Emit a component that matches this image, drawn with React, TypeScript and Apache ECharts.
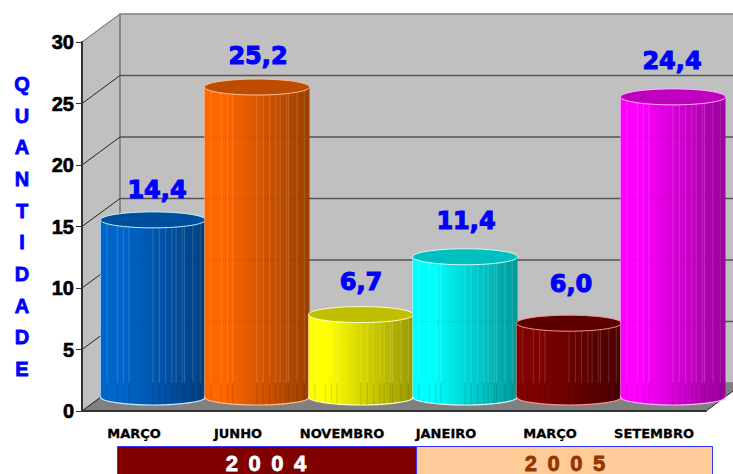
import React, { useEffect, useRef } from "react";
import * as echarts from "echarts";

const categories = ["MARÇO", "JUNHO", "NOVEMBRO", "JANEIRO", "MARÇO", "SETEMBRO"];
const values = [14.4, 25.2, 6.7, 11.4, 6.0, 24.4];
const valueLabels = ["14,4", "25,2", "6,7", "11,4", "6,0", "24,4"];
const levels = [0, 5, 10, 15, 20, 25, 30];
const axisTitle = "QUANTIDADE";
const years = ["2 0 0 4", "2 0 0 5"];

// styling and layout, separate from the data
const bodyLeft = ["#0066cc", "#ff6600", "#ffff00", "#00ffff", "#800000", "#ff00ff"];
const bodyRight = ["#003f80", "#9c3f00", "#999900", "#009999", "#4a0000", "#990099"];
const capFill = ["#004f9e", "#bd4c00", "#bfbf00", "#00bfbf", "#5f0000", "#bf00bf"];
const rimLine = ["#c0f0ff", "#ffc090", "#ffffd0", "#d0ffff", "#ff9090", "#ffb0ff"];
const labelDy = [-30, -31, -33, -36, -39, -36];
const labelDx = [4, 1, 0, 1, 2, -1];
const facetPositions = [0.06, 0.16, 0.22, 0.27, 0.5, 0.56, 0.62, 0.68, 0.72, 0.78, 0.8, 0.88, 0.95];
const DX = 38;
const DY = 28;
const BAR_W = 105;
const RY = 8;

function renderBackdrop(params: any, api: any) {
  const cs = params.coordSys;
  const left = cs.x;
  const right = cs.x + cs.width;
  const y0 = api.coord([0, 0])[1];
  const yTop = api.coord([0, levels[levels.length - 1]])[1];
  return {
    type: "group",
    children: [
      { type: "polygon", shape: { points: [[left, yTop], [left + DX, yTop - DY], [left + DX, y0 - DY], [left, y0]] }, style: { fill: "#c0c0c0", stroke: "#808080", lineWidth: 1 } },
      { type: "rect", shape: { x: left + DX, y: yTop - DY, width: right - left, height: y0 - yTop }, style: { fill: "#c0c0c0", stroke: "#808080", lineWidth: 1.5 } },
      { type: "polygon", shape: { points: [[left, y0], [left + DX, y0 - DY], [right + DX, y0 - DY], [right, y0]] }, style: { fill: "#808080" } },
    ],
  };
}

function yTopOf(api: any) {
  return api.coord([0, levels[levels.length - 1]])[1];
}

function renderLevel(params: any, api: any) {
  const cs = params.coordSys;
  const left = cs.x;
  const right = cs.x + cs.width;
  const v = api.value(1);
  const y = api.coord([0, v])[1];
  const top = v === levels[levels.length - 1];
  return {
    type: "group",
    children: [
      { type: "line", shape: { x1: left, y1: y, x2: left + DX, y2: y - DY }, style: { stroke: top ? "#808080" : "#222222", lineWidth: 1 } },
      v === 0 || top
        ? { type: "line", shape: { x1: right, y1: y, x2: right + DX, y2: y - DY }, style: { stroke: v === 0 ? "#222222" : "none", lineWidth: 1 } }
        : { type: "line", shape: { x1: left + DX, y1: y - DY, x2: right + DX, y2: y - DY }, style: { stroke: "#555555", lineWidth: 1.5 } },
      ...(v === 0
        ? [{ type: "line", shape: { x1: left + DX, y1: y - DY, x2: left + DX, y2: yTopOf(api) - DY }, style: { stroke: "#808080", lineWidth: 1 } }]
        : []),
    ],
  };
}

function renderCylinder(params: any, api: any) {
  const i = api.value(0);
  const p = api.coord([i, api.value(1)]);
  const base = api.coord([i, 0]);
  const cx = p[0] + DX / 2;
  const topY = p[1] - DY / 2;
  const botY = base[1] - DY / 2;
  const backFloor = base[1] - DY;
  const L = cx - BAR_W / 2;
  const grad = new echarts.graphic.LinearGradient(0, 0, 1, 0, [
    { offset: 0, color: bodyLeft[i] },
    { offset: 0.18, color: bodyLeft[i] },
    { offset: 1, color: bodyRight[i] },
  ]);
  const facets: any[] = [];
  facetPositions.forEach((f) => {
    const u = 2 * f - 1;
    const d = RY * Math.sqrt(1 - u * u);
    const x = L + f * BAR_W;
    facets.push({
      type: "line",
      shape: { x1: x, y1: topY + d, x2: x, y2: backFloor },
      style: { stroke: "rgba(255,255,255,0.16)", lineWidth: 1 },
    });
    facets.push({
      type: "line",
      shape: { x1: x, y1: backFloor, x2: x, y2: botY + d },
      style: { stroke: "rgba(0,0,0,0.13)", lineWidth: 1 },
    });
  });
  const through = levels
    .filter((v) => v > 0)
    .map((v) => api.coord([i, v])[1] - DY)
    .filter((y) => y > topY + RY + 2)
    .map((y) => ({
      type: "line",
      shape: { x1: L, y1: y, x2: L + BAR_W, y2: y },
      style: { stroke: "rgba(0,0,0,0.16)", lineWidth: 1, lineDash: [1, 2] },
    }));
  return {
    type: "group",
    children: [
      { type: "ellipse", shape: { cx, cy: botY, rx: BAR_W / 2, ry: RY }, style: { fill: grad, stroke: rimLine[i], lineWidth: 1.2 } },
      { type: "rect", shape: { x: L, y: topY, width: BAR_W, height: botY - topY }, style: { fill: grad } },
      ...facets,
      ...through,
      { type: "line", shape: { x1: L, y1: topY, x2: L, y2: botY }, style: { stroke: rimLine[i], lineWidth: 0.7, opacity: 0.7 } },
      { type: "ellipse", shape: { cx, cy: topY, rx: BAR_W / 2, ry: RY }, style: { fill: capFill[i], stroke: rimLine[i], lineWidth: 1 } },
    ],
  };
}

function renderValueLabel(params: any, api: any) {
  const i = api.value(0);
  const p = api.coord([i, api.value(1)]);
  return {
    type: "text",
    x: p[0] + DX / 2 + labelDx[i],
    y: p[1] - DY / 2 + labelDy[i],
    style: {
      text: valueLabels[i],
      fill: "#0000ff",
      stroke: "#0000ff",
      lineWidth: 1.1,
      font: "bold 24px 'DejaVu Sans'",
      align: "center",
      verticalAlign: "middle",
    },
  };
}

export default function App() {
  const ref = useRef<HTMLDivElement>(null);
  useEffect(() => {
    const chart = echarts.init(ref.current!, null, { renderer: "svg" });
    const pairs = values.map((v, i) => [i, v]);
    chart.setOption({
      animation: false,
      backgroundColor: "#ffffff",
      grid: { left: 82, right: 27, top: 42, bottom: 63 },
      xAxis: {
        type: "category",
        data: categories,
        z: 6,
        axisLine: { lineStyle: { color: "#333333", width: 2 } },
        axisTick: { length: 7, lineStyle: { color: "#333333", width: 1 } },
        axisLabel: {
          interval: 0,
          margin: 16,
          color: "#000000",
          fontFamily: "DejaVu Sans",
          fontWeight: "bold",
          fontSize: 13,
          textBorderColor: "#000000",
          textBorderWidth: 0.3,
        },
      },
      yAxis: {
        type: "value",
        min: 0,
        max: 30,
        interval: 5,
        z: 6,
        name: axisTitle.split("").join("\n"),
        nameLocation: "middle",
        nameRotate: 0,
        nameGap: 60,
        nameTextStyle: {
          color: "#0000ff",
          fontFamily: "Liberation Sans",
          fontWeight: "bold",
          fontSize: 20,
          lineHeight: 31.7,
          align: "center",
          verticalAlign: "middle",
          textBorderColor: "#0000ff",
          textBorderWidth: 0.8,
          padding: [6, 0, 0, 0],
        },
        splitLine: { show: false },
        axisLine: { show: true, lineStyle: { color: "#333333", width: 2 } },
        axisTick: { show: true, length: 6, lineStyle: { color: "#333333", width: 1 } },
        axisLabel: {
          margin: 8,
          color: "#000000",
          fontFamily: "Liberation Sans",
          fontWeight: "bold",
          fontSize: 20,
          textBorderColor: "#000000",
          textBorderWidth: 0.6,
        },
      },
      series: [
        { type: "custom", z: 1, silent: true, renderItem: renderBackdrop, data: [[0, 0]], encode: { x: 0, y: 1 } },
        { type: "custom", z: 2, silent: true, renderItem: renderLevel, data: levels.map((v) => [0, v]), encode: { x: 0, y: 1 } },
        { type: "custom", z: 3, silent: true, renderItem: renderCylinder, data: pairs, encode: { x: 0, y: 1 } },
        { type: "custom", z: 4, silent: true, renderItem: renderValueLabel, data: pairs, encode: { x: 0, y: 1 } },
      ],
      graphic: [
        { type: "rect", z: 10, shape: { x: 117.5, y: 446.5, width: 299, height: 40 }, style: { fill: "#7f0000", stroke: "#3333ff", lineWidth: 1 } },
        { type: "rect", z: 10, shape: { x: 416.5, y: 446.5, width: 296, height: 40 }, style: { fill: "#ffcc99", stroke: "#3333ff", lineWidth: 1 } },
        { type: "text", z: 11, x: 267, y: 463, style: { text: years[0], fill: "#ffffff", stroke: "#ffffff", lineWidth: 0.8, font: "bold 22px 'Liberation Sans'", align: "center", verticalAlign: "middle" } },
        { type: "text", z: 11, x: 566, y: 463, style: { text: years[1], fill: "#993300", stroke: "#993300", lineWidth: 0.8, font: "bold 22px 'Liberation Sans'", align: "center", verticalAlign: "middle" } },
      ],
    });
    // widen the tracking of the year captions
    ref.current!.querySelectorAll("text").forEach((t) => {
      if (years.includes((t.textContent || "").trim())) t.setAttribute("letter-spacing", "2.2");
    });
    return () => chart.dispose();
  }, []);
  return <div ref={ref} style={{ position: "fixed", left: 0, top: 0, width: 733, height: 474 }} />;
}
